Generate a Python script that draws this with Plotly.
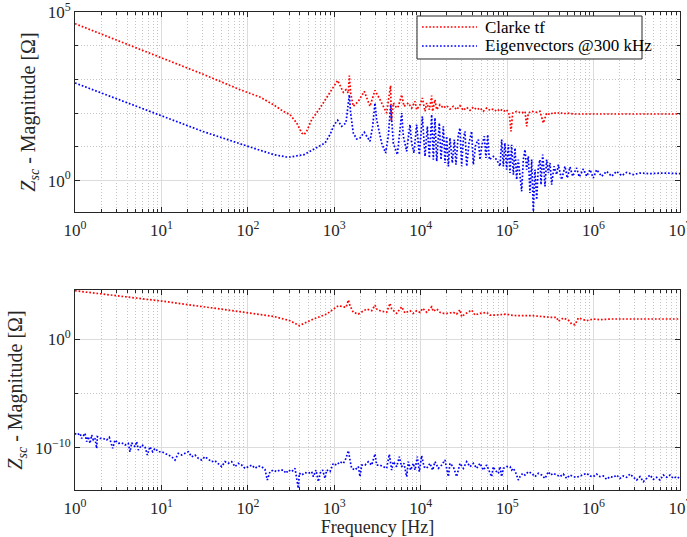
import numpy as np
import plotly.graph_objects as go

# ---------------- data (in decades: log10 Hz, log10 Ohm) ----------------
top_red_fdec = [0, 0.477, 1.0, 1.477, 1.909, 2.025, 2.140, 2.295, 2.410, 2.488,
                2.565, 2.623, 2.650, 2.680, 2.738, 2.835, 2.931, 3.039, 3.105, 3.136,
                3.162, 3.174, 3.189, 3.220, 3.278, 3.347, 3.413, 3.471, 3.529, 3.606,
                3.633, 3.652, 3.660, 3.683, 3.722, 3.741, 3.780, 3.807, 3.857, 3.895,
                3.934, 3.953, 3.992, 4.019, 4.050, 4.069, 4.100, 4.127, 4.138, 4.165,
                4.185, 4.223, 4.262, 4.300, 4.339, 4.377, 4.416, 4.454, 4.493, 4.532,
                4.570, 4.609, 4.647, 4.686, 4.724, 4.763, 4.802, 4.840, 4.879, 4.917,
                4.956, 4.994, 5.025, 5.045, 5.064, 5.110, 5.168, 5.207, 5.226, 5.245,
                5.284, 5.341, 5.380, 5.419, 5.438, 5.457, 5.496, 5.534, 5.573, 5.612,
                5.650, 5.689, 5.766, 6.036, 6.421, 7.000]
top_red_zdec = [4.653, 4.17, 3.655, 3.16, 2.697, 2.598, 2.479, 2.252, 2.054, 1.956,
                1.709, 1.412, 1.363, 1.462, 1.807, 2.153, 2.548, 2.973, 2.618, 2.697,
                2.598, 3.112, 2.598, 2.203, 2.351, 2.647, 2.203, 2.677, 2.400, 2.005,
                2.499, 2.815, 1.758, 2.301, 2.153, 2.203, 2.548, 2.203, 2.301, 2.153,
                2.351, 2.104, 2.252, 2.450, 2.054, 2.301, 2.104, 2.519, 2.054, 2.400,
                2.104, 2.252, 2.153, 2.222, 2.124, 2.203, 2.104, 2.222, 2.084, 2.173,
                2.084, 2.183, 2.104, 2.153, 2.054, 2.153, 2.084, 2.124, 2.054, 2.124,
                2.054, 2.104, 1.956, 1.462, 2.005, 2.054, 2.005, 2.054, 1.610, 2.005,
                2.054, 2.025, 2.054, 1.709, 1.857, 2.005, 1.956, 2.025, 1.985, 2.025,
                1.975, 2.005, 1.975, 1.975, 1.975, 1.975]

top_blue_fdec = [0, 0.301, 0.477, 1.0, 1.477, 2.0, 2.301, 2.449, 2.488, 2.650,
                 2.796, 2.893, 2.950, 3.000, 3.039, 3.085, 3.135, 3.151, 3.174, 3.189,
                 3.220, 3.259, 3.297, 3.347, 3.413, 3.444, 3.471, 3.490, 3.548, 3.594,
                 3.625, 3.652, 3.683, 3.730, 3.780, 3.799, 3.837, 3.876, 3.895, 3.922,
                 3.953, 3.984, 4.019, 4.050, 4.077, 4.100, 4.127, 4.146, 4.165, 4.185,
                 4.215, 4.235, 4.262, 4.281, 4.300, 4.320, 4.339, 4.366, 4.389, 4.408,
                 4.435, 4.454, 4.474, 4.493, 4.512, 4.532, 4.559, 4.589, 4.609, 4.636,
                 4.667, 4.686, 4.709, 4.736, 4.755, 4.775, 4.794, 4.840, 4.879, 4.917,
                 4.937, 4.956, 4.975, 4.994, 5.014, 5.033, 5.052, 5.072, 5.091, 5.110,
                 5.129, 5.168, 5.187, 5.207, 5.226, 5.245, 5.264, 5.284, 5.303, 5.322,
                 5.342, 5.361, 5.380, 5.392, 5.411, 5.426, 5.438, 5.457, 5.477, 5.496,
                 5.515, 5.542, 5.573, 5.592, 5.619, 5.631, 5.669, 5.696, 5.727, 5.758,
                 5.804, 5.835, 5.881, 5.920, 5.959, 5.997, 6.036, 6.094, 6.151, 6.209,
                 6.267, 6.325, 6.383, 6.460, 6.537, 6.653, 6.807, 7.000]
top_blue_zdec = [2.896, 2.60, 2.43, 1.927, 1.46, 1.017, 0.77, 0.70, 0.70, 0.77,
                 0.967, 1.116, 1.363, 1.659, 1.788, 1.61, 1.709, 2.104, 2.548, 2.005,
                 1.412, 1.234, 1.264, 1.432, 1.165, 1.61, 2.301, 1.807, 1.116, 0.819,
                 1.313, 2.252, 1.116, 0.770, 2.005, 1.313, 0.869, 1.659, 1.116, 0.819,
                 1.659, 0.770, 1.906, 0.720, 1.610, 0.671, 1.956, 0.622, 1.857, 0.572,
                 1.709, 0.622, 1.610, 0.523, 1.313, 0.424, 1.264, 0.523, 1.215, 0.473,
                 1.363, 1.560, 0.424, 1.215, 1.462, 0.424, 1.116, 1.462, 0.473, 1.066,
                 1.215, 0.622, 1.066, 1.313, 0.671, 1.363, 0.622, 0.720, 0.622, 0.424,
                 1.215, 0.424, 1.116, 0.325, 1.066, 0.226, 1.066, 0.177, 0.967, 0.029,
                 0.622, -0.317, 0.622, 0.918, 0.325, 0.720, -0.367, 0.622, -0.910, 0.325,
                 -0.564, 0.424, 0.622, -0.12, 0.770, 0.325, -0.169, 0.622, 0.226, 0.523,
                 -0.120, 0.424, 0.177, 0.473, 0.128, 0.029, 0.424, 0.078, 0.404, 0.128,
                 0.375, 0.108, 0.345, 0.128, 0.325, 0.078, 0.325, 0.128, 0.276, 0.128,
                 0.276, 0.147, 0.246, 0.177, 0.226, 0.207, 0.226, 0.207]

bot_red_fdec = [0, 1.0, 1.909, 2.295, 2.488, 2.595, 2.758, 2.912, 3.008, 3.047,
                3.136, 3.163, 3.182, 3.220, 3.278, 3.375, 3.433, 3.471, 3.490, 3.529,
                3.606, 3.645, 3.664, 3.722, 3.780, 3.818, 3.876, 3.914, 3.953, 3.992,
                4.023, 4.069, 4.127, 4.146, 4.185, 4.223, 4.261, 4.320, 4.377, 4.416,
                4.454, 4.474, 4.512, 4.590, 4.628, 4.686, 4.763, 4.801, 4.879, 4.995,
                5.033, 5.110, 5.303, 5.418, 5.496, 5.573, 5.592, 5.650, 5.708, 5.747,
                5.785, 5.824, 5.920, 5.997, 6.074, 6.190, 6.460, 7.000]
bot_red_zdec = [4.48, 3.53, 2.55, 2.12, 1.72, 1.255, 1.87, 2.33, 2.89, 3.10,
                2.95, 3.625, 3.10, 2.49, 2.33, 2.80, 2.64, 3.16, 2.80, 2.64,
                2.49, 3.32, 2.80, 2.40, 3.0, 2.43, 2.64, 2.40, 2.64, 2.49,
                2.86, 2.49, 3.0, 2.58, 2.80, 2.49, 2.40, 2.40, 2.49, 2.33,
                2.73, 2.085, 2.33, 2.70, 2.24, 2.40, 2.49, 2.24, 2.24, 2.33,
                2.24, 2.18, 2.18, 2.085, 2.03, 2.03, 1.66, 1.965, 1.78, 1.41,
                1.35, 1.965, 1.72, 1.873, 1.81, 1.873, 1.873, 1.873]

bot_blue_fdec = [0.0, 0.0193, 0.0579, 0.0771, 0.1157, 0.135, 0.1543, 0.1736, 0.1928, 0.2121,
                 0.2314, 0.2507, 0.2584, 0.2892, 0.3278, 0.3664, 0.3972, 0.4358, 0.4628, 0.5013,
                 0.5399, 0.5785, 0.6171, 0.6364, 0.6556, 0.6942, 0.7135, 0.7328, 0.7713, 0.8099,
                 0.8369, 0.8677, 0.8986, 0.9256, 0.9641, 1.0027, 1.0413, 1.0798, 1.1184, 1.157,
                 1.1955, 1.234, 1.2726, 1.3112, 1.3497, 1.3883, 1.4269, 1.4654, 1.504, 1.5426,
                 1.5811, 1.6197, 1.6583, 1.6968, 1.7354, 1.774, 1.8125, 1.8511, 1.8897, 1.9282,
                 1.9668, 2.0054, 2.0439, 2.0825, 2.1211, 2.1596, 2.1982, 2.2252, 2.2561, 2.2946,
                 2.3332, 2.3718,
                 2.4105, 2.4413, 2.4683, 2.5069, 2.5455, 2.584, 2.5956, 2.6226, 2.6611, 2.6997,
                 2.7383, 2.7576, 2.7884, 2.8154, 2.8347, 2.8655, 2.8925, 2.9118, 2.9504, 2.989,
                 3.0275, 3.0661, 3.1047, 3.1355, 3.1625, 3.1818, 3.2011, 3.2396, 3.2782, 3.2975,
                 3.3168, 3.3553, 3.3939, 3.4325, 3.471, 3.4903, 3.5289, 3.5674, 3.606, 3.6368,
                 3.6638, 3.6831, 3.7217, 3.7525, 3.7795, 3.8065, 3.8374, 3.8566, 3.8836, 3.9145,
                 3.9338, 3.9608, 3.9839, 4.0109, 4.0379, 4.0688, 4.1073, 4.1382, 4.1652, 4.2038,
                 4.2423, 4.2809, 4.3195, 4.3388, 4.3773, 4.4159, 4.4545, 4.493, 4.5316, 4.5702,
                 4.6087, 4.6473, 4.6859, 4.7244, 4.763,
                 4.8209, 4.8402, 4.8595, 4.898, 4.9173, 4.9366, 4.9559, 4.9944, 5.033, 5.0523,
                 5.0716, 5.1024, 5.1294, 5.1487, 5.1795, 5.2065, 5.2451, 5.2837, 5.3222, 5.3608,
                 5.3994, 5.4379, 5.4765, 5.5035, 5.5343, 5.5729, 5.6115, 5.65, 5.6886, 5.7272,
                 5.7657, 5.8043, 5.8429, 5.8814, 5.92, 5.9586, 5.9971, 6.0357, 6.0743, 6.1128,
                 6.1514, 6.19, 6.2285, 6.2671, 6.3057, 6.3442, 6.3828, 6.4214, 6.4599, 6.4985,
                 6.5371, 6.5756, 6.6142, 6.6528, 6.6913, 6.7299, 6.7685, 6.807, 6.8456, 6.8842,
                 6.9227, 6.9613, 7.0]
bot_blue_zdec = [-8.67, -8.83, -8.67, -9.14, -8.67, -9.44, -8.98, -9.60, -8.83, -9.29,
                 -9.14, -10.06, -8.98, -9.14, -9.14, -9.29, -9.04, -10.06, -9.29, -9.60,
                 -9.54, -9.75, -9.60, -10.37, -9.54, -9.90, -9.44, -10.21, -9.75, -9.90,
                 -10.67, -9.90, -10.37, -10.06, -10.37, -10.37, -10.52, -10.67, -10.83, -11.13,
                 -10.52, -10.67, -10.52, -10.37, -10.83, -10.67, -10.98, -11.13, -10.83, -11.07,
                 -11.29, -11.20, -11.44, -11.75, -11.29, -11.44, -11.29, -11.75, -11.44, -11.60,
                 -11.90, -11.75, -11.60, -11.90, -11.69, -11.75, -12.00, -12.98, -12.21, -12.06,
                 -12.21, -12.06,
                 -12.06, -12.36, -12.06, -12.21, -11.90, -13.75, -12.36, -12.52, -12.30, -12.36,
                 -12.21, -12.67, -12.06, -13.13, -12.36, -12.06, -12.83, -12.06, -12.21, -11.44,
                 -11.60, -11.29, -11.44, -10.98, -10.27, -11.13, -11.90, -12.06, -11.75, -12.67,
                 -11.60, -11.60, -11.29, -11.60, -10.58, -11.60, -11.60, -11.75, -11.90, -10.61,
                 -12.06, -11.29, -11.75, -10.83, -11.75, -11.44, -12.67, -11.29, -12.06, -11.44,
                 -12.06, -10.83, -12.21, -10.74, -11.75, -11.90, -11.44, -12.06, -11.29, -11.90,
                 -11.60, -11.13, -12.67, -11.44, -11.75, -12.67, -11.44, -11.90, -11.29, -11.75,
                 -11.44, -11.90, -11.44, -12.06, -11.60,
                 -12.67, -11.75, -12.06, -12.36, -11.75, -12.67, -11.90, -11.75, -11.75, -12.06,
                 -11.90, -12.36, -12.98, -12.67, -12.36, -12.52, -12.21, -12.36, -12.67, -12.36,
                 -12.52, -12.83, -12.21, -12.52, -12.36, -12.52, -12.67, -12.43, -12.83, -12.52,
                 -12.67, -12.73, -12.61, -12.52, -12.36, -12.61, -12.67, -12.43, -12.67, -12.61,
                 -12.92, -12.67, -12.73, -12.52, -12.83, -12.61, -12.73, -12.43, -12.67, -12.98,
                 -12.67, -13.13, -12.83, -12.52, -12.92, -12.73, -12.98, -12.52, -12.73, -12.52,
                 -12.83, -12.67, -12.83]

series_names = ["Clarke tf", "Eigenvectors @300 kHz"]
x_tick_exps = [0, 1, 2, 3, 4, 5, 6, 7]
top_y_tick_exps = [0, 5]
bot_y_tick_exps = [-10, 0]

# ---------------- styling ----------------
RED = "#ff0000"
BLUE = "#0000ff"
AX = "#262626"
GRID = "#dcdcdc"
MINOR_GRID = "#c4c4c4"
FONT = "Liberation Serif"
DASH = "1.7px,1.9px"


def dec(v):
    return np.power(10.0, np.array(v, dtype=float))


def sup(e):
    s = str(e).replace("-", "\u2212")
    return "10<sup>%s</sup>" % s


fig = go.Figure()
fig.add_trace(go.Scatter(x=dec(top_red_fdec), y=dec(top_red_zdec), mode="lines",
                         name=series_names[0], line=dict(color=RED, width=1.7, dash=DASH),
                         xaxis="x", yaxis="y", showlegend=False))
fig.add_trace(go.Scatter(x=dec(top_blue_fdec), y=dec(top_blue_zdec), mode="lines",
                         name=series_names[1], line=dict(color=BLUE, width=1.7, dash=DASH),
                         xaxis="x", yaxis="y", showlegend=False))
fig.add_trace(go.Scatter(x=dec(bot_red_fdec), y=dec(bot_red_zdec), mode="lines",
                         name=series_names[0], showlegend=False,
                         line=dict(color=RED, width=1.7, dash=DASH), xaxis="x2", yaxis="y2"))
fig.add_trace(go.Scatter(x=dec(bot_blue_fdec), y=dec(bot_blue_zdec), mode="lines",
                         name=series_names[1], showlegend=False,
                         line=dict(color=BLUE, width=1.7, dash=DASH), xaxis="x2", yaxis="y2"))

x_minor = [m * 10.0 ** k for k in range(7) for m in range(2, 10)]

common = dict(type="log", showline=True, linecolor=AX, linewidth=1, mirror="ticks",
              ticks="inside", ticklen=5, tickwidth=1, tickcolor=AX,
              showgrid=True, gridcolor=GRID, gridwidth=1, zeroline=False,
              automargin=False, ticklabeloverflow="allow",
              tickfont=dict(family=FONT, size=17, color=AX))

xcommon = dict(common, range=[0, 7], tickmode="array", ticklabelstandoff=3,
               tickvals=[10.0 ** e for e in x_tick_exps],
               ticktext=[sup(e) for e in x_tick_exps],
               minor=dict(tickmode="array", tickvals=x_minor, ticks="inside", ticklen=3,
                          tickcolor=AX, showgrid=True, gridcolor=MINOR_GRID,
                          griddash="1px,2px", gridwidth=1))

ytitle = "<i>Z</i><sub><i>sc</i></sub> - Magnitude [\u03a9]"

# ---- legend box drawn in the top axes area (paper coordinates) ----
legend_colors = [RED, BLUE]
leg_x0, leg_x1, leg_y0, leg_y1 = 0.5653, 0.9372, 0.9017, 0.9916
leg_rows = [0.9686, 0.9289]
leg_line_x = (0.5736, 0.6645)
leg_text_x = 0.6744

shapes = [dict(type="rect", xref="paper", yref="paper", x0=leg_x0, x1=leg_x1, y0=leg_y0, y1=leg_y1,
               line=dict(color=AX, width=1), fillcolor="white", layer="above")]
annotations = []
for name, col, yy in zip(series_names, legend_colors, leg_rows):
    shapes.append(dict(type="line", xref="paper", yref="paper", x0=leg_line_x[0], x1=leg_line_x[1],
                       y0=yy, y1=yy, line=dict(color=col, width=1.7, dash=DASH), layer="above"))
    annotations.append(dict(text=name, xref="paper", yref="paper", x=leg_text_x, y=yy,
                            xanchor="left", yanchor="middle", showarrow=False,
                            font=dict(family=FONT, size=17, color="#000000")))

fig.update_layout(
    width=687, height=537,
    margin=dict(l=75, r=7, t=12, b=47),
    paper_bgcolor="white", plot_bgcolor="white",
    font=dict(family=FONT, size=17, color=AX),
    xaxis=dict(xcommon, domain=[0, 1], anchor="y"),
    xaxis2=dict(xcommon, domain=[0, 1], anchor="y2",
                title=dict(text="Frequency [Hz]", font=dict(family=FONT, size=18, color=AX),
                           standoff=4)),
    yaxis=dict(common, domain=[0.5816, 1.0], anchor="x", range=[-0.93, 5],
               tickmode="array", tickvals=[10.0 ** e for e in top_y_tick_exps],
               ticktext=[sup(e) for e in top_y_tick_exps],
               minor=dict(tickmode="array", tickvals=[10.0, 100.0, 1000.0, 10000.0],
                          ticks="inside", ticklen=3, tickcolor=AX, showgrid=True,
                          gridcolor=MINOR_GRID, griddash="1px,2px", gridwidth=1),
               title=dict(text=ytitle, font=dict(family=FONT, size=20, color=AX), standoff=6)),
    yaxis2=dict(common, domain=[0.0, 0.4184], anchor="x2", range=[-13.9, 4.55],
                tickmode="array", tickvals=[10.0 ** e for e in bot_y_tick_exps],
                ticktext=[sup(e) for e in bot_y_tick_exps],
                minor=dict(tickmode="array", tickvals=[1e-5],
                           ticks="inside", ticklen=3, tickcolor=AX, showgrid=True,
                           gridcolor=MINOR_GRID, griddash="1px,2px", gridwidth=1),
                title=dict(text=ytitle, font=dict(family=FONT, size=20, color=AX), standoff=6)),
    shapes=shapes,
    annotations=annotations,
    showlegend=False,
)

fig.write_html("out.html", config={"displayModeBar": False},
               post_script="document.body.style.margin='0';document.body.style.overflow='hidden';")
